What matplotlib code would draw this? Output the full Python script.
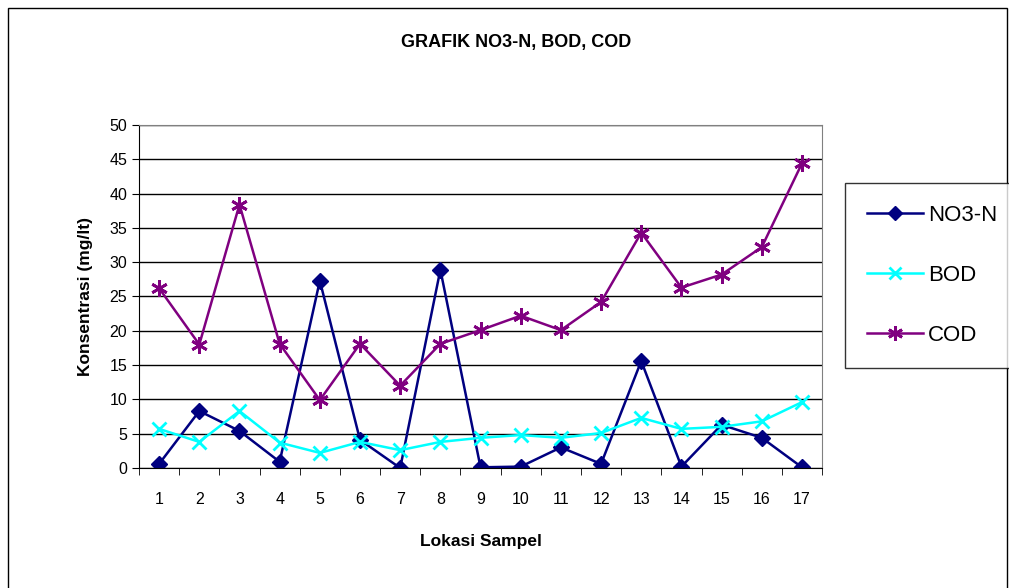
import numpy as np
import matplotlib.pyplot as plt
from matplotlib.patches import Rectangle

plt.rcParams['font.family'] = ['Liberation Sans', 'DejaVu Sans']

lokasi = list(range(1, 18))
no3n = [0.6, 8.3, 5.4, 0.9, 27.3, 4.1, 0.0, 28.9, 0.1, 0.2, 3.0, 0.6, 15.6, 0.2, 6.3, 4.4, 0.1]
bod = [5.7, 3.8, 8.3, 3.7, 2.2, 3.8, 2.6, 3.8, 4.4, 4.8, 4.4, 5.1, 7.3, 5.7, 6.0, 6.8, 9.6]
cod = [26.2, 18.0, 38.4, 18.1, 9.9, 18.1, 12.0, 18.1, 20.1, 22.2, 20.1, 24.2, 34.3, 26.3, 28.2, 32.2, 44.4]

fig = plt.figure(figsize=(10.09, 5.88), dpi=100)
# outer chart frame
fig.patches.append(Rectangle((0.008, -0.01), 0.99, 0.997, transform=fig.transFigure,
                             fill=False, edgecolor='black', linewidth=1))

ax = fig.add_axes([0.1378, 0.2041, 0.6769, 0.5833])
x = np.arange(len(lokasi))
ax.plot(x, no3n, color='#000080', lw=1.8, marker='D', ms=8, label='NO3-N')
ax.plot(x, bod, color='#00FFFF', lw=1.8, marker='x', ms=10, mew=2, label='BOD')
ax.plot(x, cod, color='#800080', lw=1.8, marker=(6, 2, 0), ms=12, mew=2, label='COD')

ax.set_xlim(-0.5, len(lokasi) - 0.5)
ax.set_ylim(0, 50)
ax.set_yticks(range(0, 51, 5))
ax.set_xticks(x)
ax.set_xticklabels(lokasi)
ax.set_xticks(np.arange(-0.5, len(lokasi), 1), minor=True)
ax.tick_params(axis='x', which='major', length=0, pad=17, labelsize=11.5)
ax.tick_params(axis='x', which='minor', length=5, direction='out')
ax.tick_params(axis='y', length=5, direction='out', labelsize=11.5)
ax.yaxis.grid(True, color='black', lw=1)
ax.set_axisbelow(True)
for s in ['top', 'right']:
    ax.spines[s].set_color('gray')
ax.spines['left'].set_color('black')
ax.spines['bottom'].set_color('black')

ax.set_xlabel('Lokasi Sampel', fontsize=12.5, fontweight='bold', labelpad=20)
ax.set_ylabel('Konsentrasi (mg/lt)', fontsize=12.5, fontweight='bold', labelpad=12)
fig.text(0.512, 0.927, 'GRAFIK NO3-N, BOD, COD', ha='center', va='center',
         fontsize=13, fontweight='bold')

leg = fig.legend(loc='upper left', bbox_to_anchor=(845 / 1009, 1 - 183 / 588), frameon=True,
                 fancybox=False, edgecolor='black', fontsize=16, labelspacing=1.75,
                 handlelength=2.5, handletextpad=0.25, borderpad=1.0, borderaxespad=0,
                 markerscale=0.9)
leg.get_frame().set_linewidth(1)

fig.savefig('out.png', dpi=100)
